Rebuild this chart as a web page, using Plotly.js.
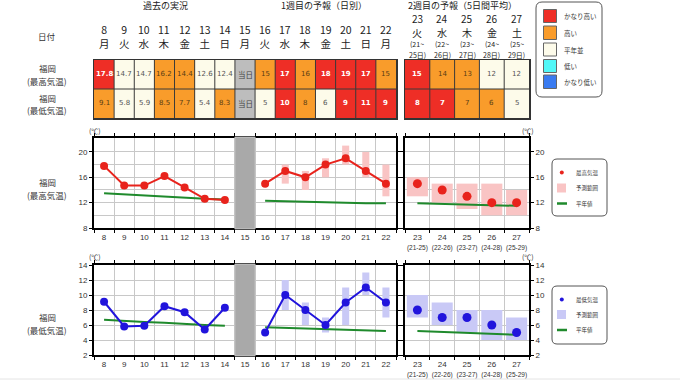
<!DOCTYPE html>
<html><head><meta charset="utf-8">
<script src="https://cdn.plot.ly/plotly-3.0.1.min.js"></script>
<style>html,body{margin:0;padding:0;background:#fff}#chart{width:680px;height:381px}</style>
</head><body><div id="chart"></div>
<script>
// ---------------- DATA ----------------
const pastDays = [8, 9, 10, 11, 12, 13, 14];
const todayDay = 15;
const wk1Days = [16, 17, 18, 19, 20, 21, 22];
const wk2Days = [23, 24, 25, 26, 27];
const weekdays1 = ['月','火','水','木','金','土','日','月','火','水','木','金','土','日','月']; // 8..22
const weekdays2 = ['火','水','木','金','土'];
const wk2SpanStart = ['(21~','(22~','(23~','(24~','(25~'];
const wk2SpanEnd = ['25日)','26日)','27日)','28日)','29日)'];
const wk2SpanTick = ['(21-25)','(22-26)','(23-27)','(24-28)','(25-29)'];

const pastHigh = [17.8, 14.7, 14.7, 16.2, 14.4, 12.6, 12.4];
const pastLow  = [9.1, 5.8, 5.9, 8.5, 7.7, 5.4, 8.3];
const wk1High = [15, 17, 16, 18, 19, 17, 15];
const wk1Low  = [5, 10, 8, 6, 9, 11, 9];
const wk2High = [15, 14, 13, 12, 12];
const wk2Low  = [8, 7, 7, 6, 5];

const wk1RangeDays = [17, 18, 19, 20, 21, 22];
const wk1HighRangeLo = [15, 14, 16, 18, 16, 13];
const wk1HighRangeHi = [18, 17, 19, 21, 20, 18];
const wk1LowRangeLo  = [8, 6, 5, 6, 10, 7];
const wk1LowRangeHi  = [12, 9, 7, 11, 13, 11];
const wk2HighRangeLo = [13, 12, 11, 10, 10];
const wk2HighRangeHi = [16, 15, 15, 15, 14];
const wk2LowRangeLo  = [7, 6, 5, 4, 4];
const wk2LowRangeHi  = [10, 9, 8, 8, 7];

const pastHighNormal = [13.5, 13.3, 13.2, 13.0, 12.8, 12.6, 12.5];
const pastLowNormal  = [6.7, 6.5, 6.4, 6.3, 6.1, 6.0, 5.9];
const wk1HighNormal = [12.3, 12.2, 12.1, 12.1, 12.0, 11.9, 11.9];
const wk1LowNormal  = [5.7, 5.6, 5.5, 5.5, 5.4, 5.3, 5.2];
const wk2HighNormal = [11.9, 11.8, 11.7, 11.6, 11.5];
const wk2LowNormal  = [5.2, 5.1, 4.9, 4.8, 4.7];

const pastHighClass = ['vh','n','n','h','h','n','n'];
const pastLowClass  = ['h','n','n','h','h','n','h'];
const wk1HighClass  = ['h','vh','h','vh','vh','vh','h'];
const wk1LowClass   = ['n','vh','h','n','vh','vh','vh'];
const wk2HighClass  = ['vh','h','h','n','n'];
const wk2LowClass   = ['vh','vh','h','h','n'];

const classLabels = ['かなり高い','高い','平年並','低い','かなり低い'];
const classKeys   = ['vh','h','n','l','vl'];
const highTicks = [8, 12, 16, 20];
const highMinor = [10, 14, 18];
const lowTicks = [2, 4, 6, 8, 10, 12, 14];

// ---------------- STYLE ----------------
const W = 680, H = 381;
const px = x => x / W, py = y => 1 - y / H;
const JP = 'Noto Sans CJK JP, sans-serif';
const NUM = 'Liberation Sans, Arial, sans-serif';
const CELLF = 'DejaVu Sans, Verdana, sans-serif';
const CLS = {vl:0, l:1, n:2, h:3, vh:4, today:5};
const CCOL = {vl:'#3a7bf0', l:'#52f7f7', n:'#fdfbea', h:'#f99c2b', vh:'#ee2e26', today:'#bdbdbd'};
const TCOL = {vl:'#ffffff', l:'#333', n:'#555555', h:'#5a3c14', vh:'#ffffff', today:'#444'};
const RED = '#e8231c', BLUE = '#2114dc', GREEN = '#1f8a2c', PINK = '#f9c4c4', LBLUE = '#c9c9f6';
const GRID = '#c8c8c8';

const allDays = [...pastDays, todayDay, ...wk1Days];
const highCls1 = [...pastHighClass, 'today', ...wk1HighClass];
const lowCls1  = [...pastLowClass, 'today', ...wk1LowClass];
const highTxt1 = [...pastHigh.map(v => v.toFixed(1)), '当日', ...wk1High.map(String)];
const lowTxt1  = [...pastLow.map(v => v.toFixed(1)), '当日', ...wk1Low.map(String)];

const order = ['vl','l','n','h','vh','today'];
const cs = [];
order.forEach((k, i) => {
  const a = i === 0 ? 0 : (i - 0.5) / 5, b = i === 5 ? 1 : (i + 0.5) / 5;
  cs.push([a, CCOL[k]]); cs.push([b, CCOL[k]]);
});

const traces = [];
// tables
traces.push({type:'heatmap', x: allDays, y: [0, 1], z: [lowCls1.map(c => CLS[c]), highCls1.map(c => CLS[c])],
  colorscale: cs, zmin: 0, zmax: 5, showscale: false, hoverinfo: 'skip', xaxis: 'x', yaxis: 'y'});
traces.push({type:'heatmap', x: wk2Days, y: [0, 1], z: [wk2LowClass.map(c => CLS[c]), wk2HighClass.map(c => CLS[c])],
  colorscale: cs, zmin: 0, zmax: 5, showscale: false, hoverinfo: 'skip', xaxis: 'x2', yaxis: 'y2'});

function band(days, lo, hi, color, w, xa, ya) {
  return {type:'bar', x: days, base: lo, y: hi.map((h, i) => h - lo[i]), width: w,
    marker: {color: color, line: {width: 0}}, xaxis: xa, yaxis: ya, hoverinfo: 'skip', showlegend: false};
}
function line(days, vals, color, width, xa, ya, mode, msize) {
  return {type:'scatter', mode: mode, x: days, y: vals, xaxis: xa, yaxis: ya,
    line: {color: color, width: width}, marker: {color: color, size: msize || 8}, hoverinfo: 'skip', showlegend: false};
}
// high chart
traces.push(band(wk1RangeDays, wk1HighRangeLo, wk1HighRangeHi, PINK, 0.35, 'x3', 'y3'));
traces.push(band(wk2Days, wk2HighRangeLo, wk2HighRangeHi, PINK, 0.85, 'x4', 'y4'));
traces.push(line(pastDays, pastHighNormal, GREEN, 2, 'x3', 'y3', 'lines'));
traces.push(line(wk1Days, wk1HighNormal, GREEN, 2, 'x3', 'y3', 'lines'));
traces.push(line(wk2Days, wk2HighNormal, GREEN, 2, 'x4', 'y4', 'lines'));
traces.push(line(pastDays, pastHigh, RED, 2, 'x3', 'y3', 'lines+markers', 8));
traces.push(line(wk1Days, wk1High, RED, 2, 'x3', 'y3', 'lines+markers', 8));
traces.push(line(wk2Days, wk2High, RED, 2, 'x4', 'y4', 'markers', 9));
// low chart
traces.push(band(wk1RangeDays, wk1LowRangeLo, wk1LowRangeHi, LBLUE, 0.35, 'x5', 'y5'));
traces.push(band(wk2Days, wk2LowRangeLo, wk2LowRangeHi, LBLUE, 0.85, 'x6', 'y6'));
traces.push(line(pastDays, pastLowNormal, GREEN, 2, 'x5', 'y5', 'lines'));
traces.push(line(wk1Days, wk1LowNormal, GREEN, 2, 'x5', 'y5', 'lines'));
traces.push(line(wk2Days, wk2LowNormal, GREEN, 2, 'x6', 'y6', 'lines'));
traces.push(line(pastDays, pastLow, BLUE, 2, 'x5', 'y5', 'lines+markers', 8));
traces.push(line(wk1Days, wk1Low, BLUE, 2, 'x5', 'y5', 'lines+markers', 8));
traces.push(line(wk2Days, wk2Low, BLUE, 2, 'x6', 'y6', 'markers', 9));

// ---------------- ANNOTATIONS ----------------
const ann = [];
function A(text, x, y, o) {
  ann.push(Object.assign({text: text, x: x, y: y, xref: 'paper', yref: 'paper', showarrow: false, borderpad: 0,
    xanchor: 'center', yanchor: 'middle', font: {family: JP, size: 9, color: '#222'}}, o || {}));
}
A('過去の実況', px(165), py(6));
A('1週目の予報（日別）', px(324), py(6));
A('2週目の予報（5日間平均）', px(462), py(6));
A('日付', px(47), py(36), {font: {family: JP, size: 8.5, color: '#333'}});
[['福岡', 68], ['(最高気温)', 81], ['福岡', 98], ['(最低気温)', 110], ['福岡', 182], ['(最高気温)', 195], ['福岡', 317], ['(最低気温)', 330]]
  .forEach(([t, y]) => A(t, px(47), py(y), {font: {family: JP, size: 8.5, color: '#333'}}));

allDays.forEach((d, i) => {
  A(`${d}<br>${weekdays1[i]}`, d, py(36), {xref: 'x', font: {family: JP, size: 10.5, color: '#222'}});
  [[highCls1[i], highTxt1[i], 1], [lowCls1[i], lowTxt1[i], 0]].forEach(([c, t, r]) => {
    A(c === 'vh' ? '<b>' + t + '</b>' : t, d, r, {xref: 'x', yref: 'y',
      font: {family: c === 'today' ? JP : CELLF, size: c === 'today' ? 7.5 : 7, color: TCOL[c]}});
  });
});
wk2Days.forEach((d, i) => {
  A(String(d), d, py(19), {xref: 'x2', font: {family: JP, size: 10, color: '#222'}});
  A(weekdays2[i], d, py(32), {xref: 'x2', font: {family: JP, size: 10, color: '#222'}});
  A(wk2SpanStart[i], d, py(44), {xref: 'x2', font: {family: JP, size: 7, color: '#222'}});
  A(wk2SpanEnd[i], d, py(55), {xref: 'x2', font: {family: JP, size: 7, color: '#222'}});
  [[wk2HighClass[i], String(wk2High[i]), 1], [wk2LowClass[i], String(wk2Low[i]), 0]].forEach(([c, t, r]) => {
    A(c === 'vh' ? '<b>' + t + '</b>' : t, d, r, {xref: 'x2', yref: 'y2', font: {family: CELLF, size: 7, color: TCOL[c]}});
  });
});
[[95, 131], [528, 131], [95, 257], [528, 257]].forEach(([x, y]) =>
  A('(℃)', px(x), py(y), {font: {family: JP, size: 7, color: '#333'}}));

// ---------------- SHAPES ----------------
const shapes = [];
function rrect(x0, y0, x1, y1, r) {
  const X = v => px(v), Y = v => py(v);
  return `M${X(x0 + r)},${Y(y0)} L${X(x1 - r)},${Y(y0)} Q${X(x1)},${Y(y0)} ${X(x1)},${Y(y0 + r)} L${X(x1)},${Y(y1 - r)} Q${X(x1)},${Y(y1)} ${X(x1 - r)},${Y(y1)} L${X(x0 + r)},${Y(y1)} Q${X(x0)},${Y(y1)} ${X(x0)},${Y(y1 - r)} L${X(x0)},${Y(y0 + r)} Q${X(x0)},${Y(y0)} ${X(x0 + r)},${Y(y0)} Z`;
}
function cellLines(days, xa, ya) {
  for (let i = 0; i < days.length - 1; i++) {
    const xm = (days[i] + days[i + 1]) / 2;
    shapes.push({type: 'line', xref: xa, yref: ya, x0: xm, x1: xm, y0: -0.5, y1: 1.5, line: {color: '#3a3a3a', width: 1}, layer: 'above'});
  }
  shapes.push({type: 'line', xref: xa, yref: ya, x0: days[0] - 0.5, x1: days[days.length - 1] + 0.5, y0: 0.5, y1: 0.5, line: {color: '#3a3a3a', width: 1}, layer: 'above'});
}
cellLines(allDays, 'x', 'y');
cellLines(wk2Days, 'x2', 'y2');
// today band
['3', '5'].forEach(n => shapes.push({type: 'rect', xref: 'x' + n, yref: 'y' + n + ' domain', x0: todayDay - 0.5, x1: todayDay + 0.5, y0: -0.01, y1: 1.01,
  fillcolor: '#a9a9a9', line: {color: '#c4c4c4', width: 1}, layer: 'above'}));

// table legend
shapes.push({type: 'path', xref: 'paper', yref: 'paper', path: rrect(536, 2, 602, 97, 6), line: {color: '#555', width: 1}, fillcolor: '#fff', layer: 'below'});
const swY = [[9.5, 22.5], [26, 39.5], [43, 56], [59.5, 72.5], [75, 88.5]];
classKeys.forEach((k, i) => {
  shapes.push({type: 'rect', xref: 'paper', yref: 'paper', x0: px(543.5), x1: px(556.5), y0: py(swY[i][1]), y1: py(swY[i][0]),
    fillcolor: CCOL[k], line: {color: '#666', width: 1}});
  A(classLabels[i], px(563), py((swY[i][0] + swY[i][1]) / 2), {xanchor: 'left', font: {family: JP, size: 6.5, color: '#333'}});
});
// chart legends
function chartLegend(top, bottom, dotY, sqY, lnY, pointColor, bandColor, label) {
  shapes.push({type: 'path', xref: 'paper', yref: 'paper', path: rrect(552, top, 607, bottom, 5), line: {color: '#555', width: 1}, fillcolor: '#fff', layer: 'below'});
  shapes.push({type: 'circle', xref: 'paper', yref: 'paper', x0: px(559.8), x1: px(563.8), y0: py(dotY + 2), y1: py(dotY - 2), fillcolor: pointColor, line: {width: 0}});
  shapes.push({type: 'rect', xref: 'paper', yref: 'paper', x0: px(557), x1: px(566), y0: py(sqY + 4.5), y1: py(sqY - 4.5), fillcolor: bandColor, line: {width: 0}});
  shapes.push({type: 'line', xref: 'paper', yref: 'paper', x0: px(557), x1: px(567), y0: py(lnY), y1: py(lnY), line: {color: GREEN, width: 2.5}});
  A(label, px(575), py(dotY), {xanchor: 'left', font: {family: JP, size: 5.5, color: '#333'}});
  A('予測範囲', px(575), py(sqY), {xanchor: 'left', font: {family: JP, size: 5.5, color: '#333'}});
  A('平年値', px(575), py(lnY), {xanchor: 'left', font: {family: JP, size: 5.5, color: '#333'}});
}
chartLegend(159, 216, 172.5, 188, 203.5, RED, PINK, '最高気温');
chartLegend(286, 344, 299.5, 314.5, 330, BLUE, LBLUE, '最低気温');
shapes.push({type: 'line', xref: 'paper', yref: 'paper', x0: 0, x1: 1, y0: py(379), y1: py(379), line: {color: '#e4e4e4', width: 1}});

// ---------------- AXES ----------------
const tableX = (dom, rng) => ({domain: dom, range: rng, showgrid: false, zeroline: false, showticklabels: false, ticks: '',
  showline: true, mirror: true, linecolor: '#333', linewidth: 1.5, fixedrange: true});
const tableY = (anchor) => ({domain: [py(118), py(60)], range: [-0.5, 1.5], anchor: anchor, showgrid: false, zeroline: false,
  showticklabels: false, ticks: '', showline: true, mirror: true, linecolor: '#333', linewidth: 1.5, fixedrange: true});
const half = days => [days[0] - 0.5, ...days.map(d => d + 0.5)];
const chartX = (dom, rng, anchor, vals, text) => ({domain: dom, range: rng, anchor: anchor, tickmode: 'array', tickvals: vals, ticktext: text,
  ticks: '', showgrid: false, zeroline: false, showline: true, mirror: 'ticks', linecolor: '#000', linewidth: 2,
  tickfont: {family: NUM, size: 8, color: '#333'},
  minor: {tickmode: 'array', tickvals: half(vals), showgrid: true, gridcolor: GRID, gridwidth: 1, ticks: 'outside', ticklen: 3, tickcolor: '#000'}});
const chartY = (dom, rng, anchor, vals, minorVals, side) => ({domain: dom, range: rng, anchor: anchor, side: side, tickmode: 'array', tickvals: vals,
  ticks: 'outside', ticklen: 3, tickcolor: '#000', showgrid: true, gridcolor: GRID, zeroline: false, showline: true, mirror: 'ticks',
  linecolor: '#000', linewidth: 2, tickfont: {family: NUM, size: 8, color: '#333'},
  minor: {tickmode: 'array', tickvals: minorVals, showgrid: true, gridcolor: GRID, ticks: ''}});

const D1 = [px(94), px(396)], D2 = [px(405), px(529)];
const R1 = [7.5, 22.5], R2 = [22.5, 27.5];
const wk2TickText = wk2Days.map((d, i) => `${d}<br><span style="font-size:6.5px">${wk2SpanTick[i]}</span>`);
const HD = [py(228), py(138)], LD = [py(355), py(265)];

const layout = {
  width: W, height: H, margin: {l: 0, r: 0, t: 0, b: 0}, paper_bgcolor: '#fff', plot_bgcolor: '#fff',
  showlegend: false, barmode: 'overlay', font: {family: NUM},
  xaxis: tableX(D1, R1), yaxis: tableY('x'),
  xaxis2: Object.assign(tableX(D2, R2), {anchor: 'y2'}), yaxis2: tableY('x2'),
  xaxis3: chartX(D1, R1, 'y3', allDays, allDays.map(String)),
  yaxis3: chartY(HD, [8, 22.2], 'x3', highTicks, highMinor, 'left'),
  xaxis4: chartX(D2, R2, 'y4', wk2Days, wk2TickText),
  yaxis4: chartY(HD, [8, 22.2], 'x4', highTicks, highMinor, 'right'),
  xaxis5: chartX(D1, R1, 'y5', allDays, allDays.map(String)),
  yaxis5: chartY(LD, [2, 14], 'x5', lowTicks, [], 'left'),
  xaxis6: chartX(D2, R2, 'y6', wk2Days, wk2TickText),
  yaxis6: chartY(LD, [2, 14], 'x6', lowTicks, [], 'right'),
  annotations: ann, shapes: shapes
};
Plotly.newPlot('chart', traces, layout, {displayModeBar: false, staticPlot: true});
</script></body></html>
